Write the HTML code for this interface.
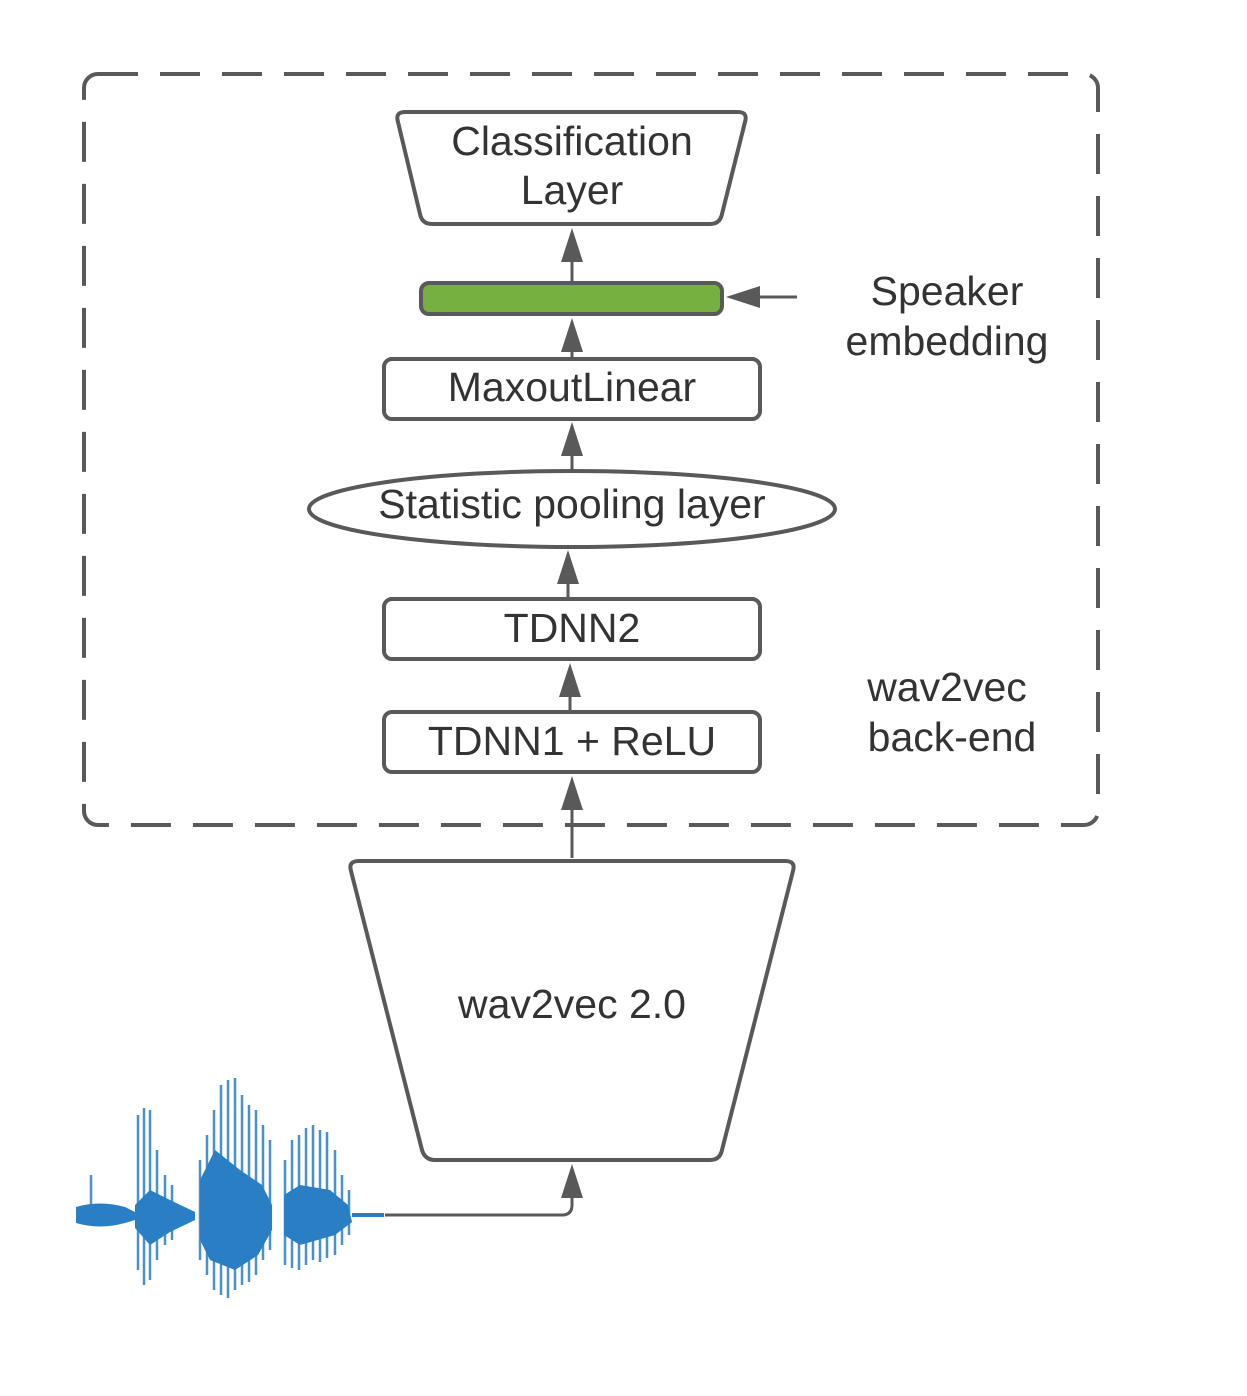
<!DOCTYPE html>
<html><head><style>html,body{margin:0;padding:0;background:#fff}</style></head>
<body>
<svg width="1247" height="1391" viewBox="0 0 1247 1391" xmlns="http://www.w3.org/2000/svg" font-family="Liberation Sans, Arial, sans-serif" fill="none">
<rect width="1247" height="1391" fill="#fff"/>
<rect x="84" y="74" width="1014" height="751" rx="14" stroke="#595959" stroke-width="4" stroke-dasharray="40,22"/>
<g stroke="#595959" stroke-width="4" stroke-linejoin="round">
<path d="M405,112 L738,112 Q748,112 745,122 L722,214 Q720,224 710,224 L432,224 Q422,224 420,214 L398,122 Q395,112 405,112 Z"/>
<rect x="421" y="283" width="301" height="31" rx="8" fill="#76b041"/>
<rect x="384" y="359" width="376" height="60" rx="8"/>
<ellipse cx="572" cy="509" rx="263" ry="38"/>
<rect x="384" y="599" width="376" height="60" rx="8"/>
<rect x="384" y="712" width="376" height="60" rx="8"/>
<path d="M359,861 L785,861 Q796,861 793,871 L722,1150 Q720,1160 710,1160 L435,1160 Q425,1160 422,1150 L351,871 Q348,861 359,861 Z"/>
</g>
<g stroke="#595959" stroke-width="3">
<line x1="572" y1="281" x2="572" y2="250"/>
<line x1="572" y1="357" x2="572" y2="340"/>
<line x1="572" y1="470" x2="572" y2="444"/>
<line x1="568" y1="598" x2="568" y2="572"/>
<line x1="570" y1="712" x2="570" y2="686"/>
<line x1="572" y1="858" x2="572" y2="798"/>
<line x1="797" y1="297" x2="750" y2="297"/>
<path d="M385,1215 L562,1215 Q572,1215 572,1205 L572,1188"/>
</g>
<g fill="#595959">
<path d="M572,228 L561,262 L583,262 Z"/>
<path d="M572,318 L561,352 L583,352 Z"/>
<path d="M572,422 L561,456 L583,456 Z"/>
<path d="M568,550 L557,584 L579,584 Z"/>
<path d="M570,663 L559,697 L581,697 Z"/>
<path d="M572,776 L561,810 L583,810 Z"/>
<path d="M572,1164 L561,1198 L583,1198 Z"/>
<path d="M726,297 L760,286 L760,308 Z"/>
</g>
<g fill="#333" font-size="41" text-anchor="middle">
<text x="572" y="155">Classification</text>
<text x="572" y="204">Layer</text>
<text x="572" y="401">MaxoutLinear</text>
<text x="572" y="518">Statistic pooling layer</text>
<text x="572" y="642">TDNN2</text>
<text x="572" y="755">TDNN1 + ReLU</text>
<text x="572" y="1018">wav2vec 2.0</text>
<text x="947" y="305">Speaker</text>
<text x="947" y="355">embedding</text>
<text x="947" y="701">wav2vec</text>
<text x="952" y="751">back-end</text>
</g>
<g fill="#2a7ec4">
<path d="M76,1207 Q100,1200 125,1207 L135,1212 L135,1220 L125,1223 Q100,1230 76,1223 Z"/>
<path d="M135,1205 L150,1190 L170,1200 L195,1212 L195,1220 L170,1232 L150,1245 L135,1228 Z"/>
<path d="M200,1180 L215,1150 L240,1170 L262,1185 L272,1205 L272,1230 L258,1255 L235,1270 L210,1260 L200,1240 Z"/>
<path d="M284,1195 L300,1185 L330,1190 L348,1205 L352,1222 L335,1235 L300,1245 L284,1235 Z"/>
<rect x="352" y="1213" width="32" height="4"/>
</g>
<g stroke="#2a7ec4" stroke-width="2.5" opacity="0.85">
<line x1="91" y1="1175" x2="91" y2="1215"/>
<line x1="138" y1="1115" x2="138" y2="1270"/>
<line x1="144" y1="1108" x2="144" y2="1285"/>
<line x1="150" y1="1110" x2="150" y2="1280"/>
<line x1="157" y1="1150" x2="157" y2="1260"/>
<line x1="165" y1="1175" x2="165" y2="1245"/>
<line x1="172" y1="1185" x2="172" y2="1240"/>
<line x1="200" y1="1160" x2="200" y2="1260"/>
<line x1="207" y1="1135" x2="207" y2="1275"/>
<line x1="214" y1="1110" x2="214" y2="1290"/>
<line x1="221" y1="1085" x2="221" y2="1295"/>
<line x1="228" y1="1080" x2="228" y2="1298"/>
<line x1="235" y1="1078" x2="235" y2="1290"/>
<line x1="242" y1="1095" x2="242" y2="1285"/>
<line x1="249" y1="1105" x2="249" y2="1282"/>
<line x1="256" y1="1110" x2="256" y2="1275"/>
<line x1="263" y1="1125" x2="263" y2="1260"/>
<line x1="270" y1="1140" x2="270" y2="1250"/>
<line x1="285" y1="1160" x2="285" y2="1265"/>
<line x1="292" y1="1140" x2="292" y2="1268"/>
<line x1="299" y1="1135" x2="299" y2="1270"/>
<line x1="306" y1="1128" x2="306" y2="1265"/>
<line x1="313" y1="1125" x2="313" y2="1260"/>
<line x1="320" y1="1130" x2="320" y2="1262"/>
<line x1="327" y1="1132" x2="327" y2="1258"/>
<line x1="335" y1="1150" x2="335" y2="1255"/>
<line x1="342" y1="1175" x2="342" y2="1245"/>
<line x1="349" y1="1190" x2="349" y2="1235"/>
</g>
</svg>
</body></html>
